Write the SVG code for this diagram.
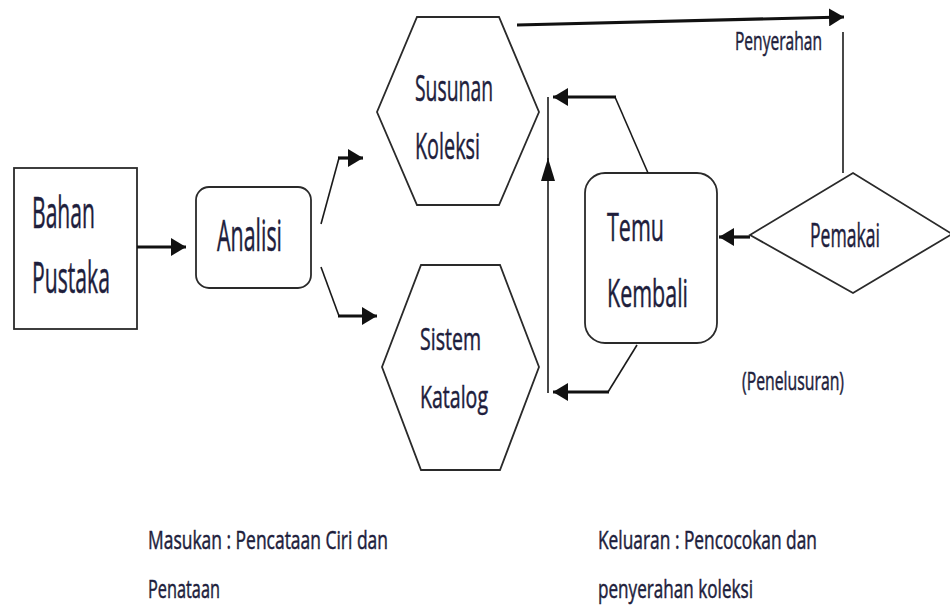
<svg xmlns="http://www.w3.org/2000/svg" width="950" height="614" viewBox="0 0 950 614">
<defs>
<style>
.shape{fill:#ffffff;stroke:#2a2a2a;stroke-width:1.8}
.thin{fill:none;stroke:#1a1a1a;stroke-width:1.6}
.thick{fill:none;stroke:#111111;stroke-width:3.2}
.t{font-family:"Open Sans","Liberation Sans",sans-serif;fill:#1e1e3c;stroke:#1e1e3c;stroke-width:0.5}
</style>
<marker id="ah" markerUnits="userSpaceOnUse" markerWidth="16" markerHeight="18" refX="15" refY="9" orient="auto">
<path d="M0,0 L15,9 L0,18 Z" fill="#111111"/>
</marker>
<marker id="ahUp" markerUnits="userSpaceOnUse" markerWidth="24" markerHeight="14" refX="23" refY="7" orient="auto">
<path d="M0,0 L23,7 L0,14 Z" fill="#111111"/>
</marker>
</defs>
<rect width="950" height="614" fill="#ffffff"/>

<g id="bahan-pustaka">
<rect class="shape" x="14" y="168" width="123" height="161"/>
<text class="t" x="32" y="228" font-size="43" textLength="63" lengthAdjust="spacingAndGlyphs">Bahan</text>
<text class="t" x="32" y="293" font-size="43" textLength="78" lengthAdjust="spacingAndGlyphs">Pustaka</text>
</g>

<g id="analisi">
<rect class="shape" x="196" y="187" width="115" height="101" rx="13"/>
<text class="t" x="217" y="251" font-size="43" textLength="65" lengthAdjust="spacingAndGlyphs">Analisi</text>
</g>

<g id="susunan-koleksi">
<polygon class="shape" points="417,17 499,17 539,112 499,205 417,205 377,112"/>
<text class="t" x="415" y="101" font-size="37" textLength="78" lengthAdjust="spacingAndGlyphs">Susunan</text>
<text class="t" x="415" y="159" font-size="37" textLength="65" lengthAdjust="spacingAndGlyphs">Koleksi</text>
</g>

<g id="sistem-katalog">
<polygon class="shape" points="421,265 500,265 539,367 500,470 421,470 382,367"/>
<text class="t" x="420" y="350" font-size="31" textLength="61" lengthAdjust="spacingAndGlyphs">Sistem</text>
<text class="t" x="420" y="408" font-size="31" textLength="68" lengthAdjust="spacingAndGlyphs">Katalog</text>
</g>

<g id="temu-kembali">
<rect class="shape" x="585" y="173" width="132" height="170" rx="20"/>
<text class="t" x="607" y="241" font-size="39" textLength="57" lengthAdjust="spacingAndGlyphs">Temu</text>
<text class="t" x="607" y="307" font-size="39" textLength="81" lengthAdjust="spacingAndGlyphs">Kembali</text>
</g>

<g id="pemakai">
<polygon class="shape" points="750,235 853,173 952,234 853,293" stroke-width="1.5"/>
<text class="t" x="810" y="247" font-size="32" textLength="70" lengthAdjust="spacingAndGlyphs">Pemakai</text>
</g>

<g id="connectors">
<line class="thick" x1="137" y1="247" x2="186" y2="247" marker-end="url(#ah)"/>
<line class="thin" x1="321" y1="224" x2="339" y2="158"/>
<line class="thick" x1="338" y1="158" x2="363" y2="158" marker-end="url(#ah)"/>
<line class="thin" x1="321" y1="267" x2="339" y2="316"/>
<line class="thick" x1="338" y1="316" x2="377" y2="316" marker-end="url(#ah)"/>
<line class="thin" x1="648" y1="173" x2="615" y2="97"/>
<line class="thick" x1="616" y1="97" x2="553" y2="97" marker-end="url(#ah)"/>
<line class="thin" x1="637" y1="345" x2="608" y2="392"/>
<line class="thick" x1="609" y1="392" x2="553" y2="392" marker-end="url(#ah)"/>
<line class="thin" x1="548" y1="393" x2="548" y2="158" marker-end="url(#ahUp)"/>
<line class="thin" x1="548" y1="160" x2="548" y2="97"/>
<line class="thick" x1="750" y1="237" x2="719" y2="237" marker-end="url(#ah)"/>
<line class="thick" x1="517" y1="25" x2="844" y2="17" marker-end="url(#ah)"/>
<line class="thin" x1="843" y1="32" x2="843" y2="173"/>
</g>

<g id="labels">
<text class="t" x="735" y="50" font-size="25" textLength="87" lengthAdjust="spacingAndGlyphs">Penyerahan</text>
<text class="t" x="742" y="390" font-size="25" textLength="102" lengthAdjust="spacingAndGlyphs">(Penelusuran)</text>
<text class="t" x="148" y="549" font-size="25" textLength="240" lengthAdjust="spacingAndGlyphs">Masukan : Pencataan Ciri dan</text>
<text class="t" x="148" y="598" font-size="25" textLength="72" lengthAdjust="spacingAndGlyphs">Penataan</text>
<text class="t" x="598" y="549" font-size="25" textLength="219" lengthAdjust="spacingAndGlyphs">Keluaran : Pencocokan dan</text>
<text class="t" x="598" y="598" font-size="25" textLength="155" lengthAdjust="spacingAndGlyphs">penyerahan koleksi</text>
</g>
</svg>
